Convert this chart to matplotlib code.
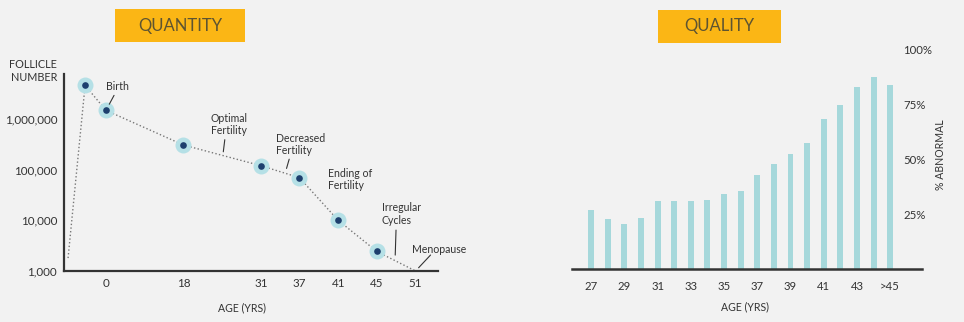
import numpy as np
from matplotlib import pyplot as plt
from matplotlib.patches import Rectangle

plt.rcParams['font.family'] = ['Lato', 'DejaVu Sans']

# left panel: follicle count along the (non-linear) age axis
age_ticks = ['0', '18', '31', '37', '41', '45', '51']
age_tick_slots = [0, 2, 4, 5, 6, 7, 8]
curve_slots = [-0.98, -0.54, 0, 2, 4, 5, 6, 7, 8]
follicles = [1800, 4600000, 1480000, 307000, 120000, 69500, 10000, 2430, 1000]
follicle_ticks = [1000, 10000, 100000, 1000000]
follicle_labels = ['1,000', '10,000', '100,000', '1,000,000']

# right panel: % abnormal by age
quality_ages = ['27', '28', '29', '30', '31', '32', '33', '34', '35', '36',
                '37', '38', '39', '40', '41', '42', '43', '44', '>45']
pct_abnormal = [27.0, 22.9, 20.6, 23.3, 31.1, 31.1, 31.1, 31.4, 34.2, 35.6,
                42.7, 47.9, 52.4, 57.7, 68.6, 75.0, 83.2, 87.7, 83.8]

BG = '#f2f2f2'
DARK = '#333333'
TXT = '#333333'
GOLD = '#fbb615'

W, H = 964, 322
fig = plt.figure(figsize=(W / 100, H / 100), dpi=100, facecolor=BG)


def box(x0, y0, x1, y1):
    # pixel box (top-left origin) -> figure fraction
    return [x0 / W, 1 - y1 / H, (x1 - x0) / W, (y1 - y0) / H]


# ---- QUANTITY panel ----
ax = fig.add_axes(box(64, 74, 438, 271))
ax.set_facecolor(BG)
ax.set_yscale('log')
ax.set_ylim(1000, 10 ** 6.888)
ax.set_xlim(-1.085, 8.58)
for s in ['top', 'right']:
    ax.spines[s].set_visible(False)
for s in ['left', 'bottom']:
    ax.spines[s].set_color(DARK)
    ax.spines[s].set_linewidth(1.6)
ax.set_xticks(age_tick_slots)
ax.set_xticklabels(age_ticks)
ax.set_yticks(follicle_ticks)
ax.set_yticklabels(follicle_labels)
ax.yaxis.set_minor_locator(plt.NullLocator())
ax.tick_params(length=0, labelsize=8.4, colors=TXT, pad=5)

ax.plot(curve_slots, follicles, ls=':', color='#777777', lw=1, zorder=2)
ax.plot(curve_slots[1:-1], follicles[1:-1], 'o', ms=11.5, color='#b5e0e6', mec='none', zorder=3)
ax.plot(curve_slots[1:-1], follicles[1:-1], 'o', ms=4.8, color='#1d3f6e', mec='none', zorder=4)


def on_curve(slot):
    return slot, 10 ** np.interp(slot, curve_slots, np.log10(follicles))


def label(text, xy, dxy):
    ax.annotate(text, xy=xy, xytext=dxy, textcoords='offset points',
                ha='left', va='center', fontsize=7.6, color=TXT, linespacing=1.15)


def leader(xy, dxy, gap):
    ax.annotate('', xy=xy, xytext=dxy, textcoords='offset points',
                arrowprops=dict(arrowstyle='-', color=DARK, lw=0.8, shrinkA=0, shrinkB=gap))


birth = (curve_slots[2], follicles[2])
label('Birth', birth, (0, 17.3))
leader(birth, (5.8, 10.8), 5)

opt = on_curve(3.02)
label('Optimal\nFertility', opt, (-8.6, 22.2))
leader(opt, (1.4, 11.4), 2.7)

dec = on_curve(4.63)
label('Decreased\nFertility', dec, (-6.5, 20.9))
leader(dec, (2.9, 10.1), 3.6)

end37 = (curve_slots[5], follicles[5])
label('Ending of\nFertility', end37, (20.5, -1.4))

irr = on_curve(7.47)
label('Irregular\nCycles', irr, (-9.4, 33.5))
leader(irr, (0.7, 22), 4)

meno = (curve_slots[-1], follicles[-1])
label('Menopause', meno, (-2.9, 15.8))
leader(meno, (10.8, 11.5), 3.2)

fig.text(57 / W, 1 - 71 / H, 'FOLLICLE\nNUMBER', ha='right', va='center',
         multialignment='right', fontsize=7.8, color=TXT, linespacing=1.2)
fig.text(242 / W, 1 - 308 / H, 'AGE (YRS)', ha='center', va='center', fontsize=7.6, color=TXT)

# ---- QUALITY panel ----
bx = fig.add_axes(box(572, 50, 922, 269))
bx.set_facecolor('none')
pos = np.arange(len(quality_ages))
bx.bar(pos, pct_abnormal, width=0.36, color='#a6d8db')
bx.set_xlim(-1.16, 19.92)
bx.set_ylim(0, 100)
for s in ['top', 'right', 'left']:
    bx.spines[s].set_visible(False)
bx.spines['bottom'].set_color(DARK)
bx.spines['bottom'].set_linewidth(1.8)
bx.set_xticks(pos[::2])
bx.set_xticklabels(quality_ages[::2])
bx.yaxis.tick_right()
bx.set_yticks([25, 50, 75, 100])
bx.set_yticklabels(['25%', '50%', '75%', '100%'])
bx.tick_params(axis='x', length=0, labelsize=8.2, colors=TXT, pad=9)
bx.tick_params(axis='y', length=0, labelsize=8.2, colors=TXT, pad=-13.5)
for t in bx.get_yticklabels():
    t.set_horizontalalignment('left')

fig.text(940 / W, 1 - 155 / H, '% ABNORMAL', rotation=90, ha='center', va='center',
         fontsize=7.6, color=TXT)
fig.text(745 / W, 1 - 307 / H, 'AGE (YRS)', ha='center', va='center', fontsize=7.6, color=TXT)

# ---- title boxes ----
for (x0, y0, x1, y1), title in [((115, 9, 245, 42), 'QUANTITY'), ((658, 10, 781, 43), 'QUALITY')]:
    fig.patches.append(Rectangle((x0 / W, 1 - y1 / H), (x1 - x0) / W, (y1 - y0) / H,
                                 transform=fig.transFigure, facecolor=GOLD, edgecolor='none'))
    fig.text((x0 + x1) / 2 / W, 1 - (y0 + y1) / 2 / H, title, ha='center', va='center',
             fontsize=12, color='#5e5431')

fig.savefig('out.png', dpi=100, facecolor=BG)
